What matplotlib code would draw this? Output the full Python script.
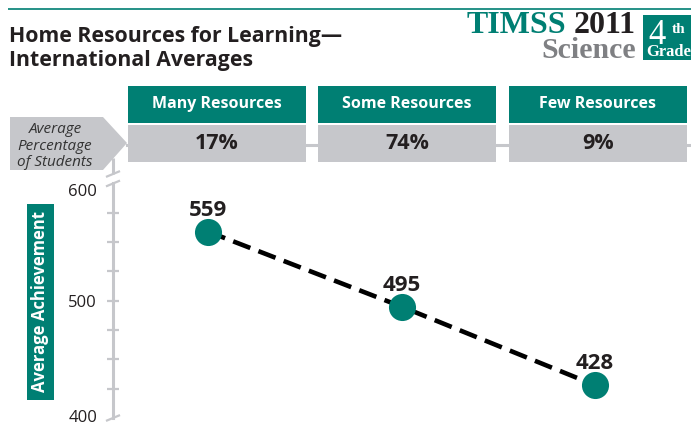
import matplotlib
matplotlib.use('Agg')
import matplotlib.pyplot as plt
from matplotlib.patches import Rectangle, Polygon
from matplotlib.transforms import ScaledTranslation

# data
categories = ['Many Resources', 'Some Resources', 'Few Resources']
pct_students = [17, 74, 9]
achievement = [559, 495, 428]
ytick_vals = [400, 425, 450, 475, 500, 525, 550, 575, 600]
ytick_labels = ['400', '', '', '', '500', '', '', '', '600']

teal = '#007f73'
grey = '#c6c7cb'
dark = '#231f20'
sans = ['Open Sans', 'DejaVu Sans']
serif = ['Liberation Serif', 'DejaVu Serif']

W, H = 691, 424
fig = plt.figure(figsize=(W / 100, H / 100), dpi=100)

# background layer in pixel coords
bg = fig.add_axes([0, 0, 1, 1])
bg.set_xlim(0, W)
bg.set_ylim(H, 0)
bg.axis('off')

bg.plot([8, W], [8.5, 8.5], color=teal, lw=1.2, solid_capstyle='butt')
bg.text(9, 42, 'Home Resources for Learning\u2014', fontsize=15.3, fontweight='bold',
        family=sans, color=dark, va='baseline')
bg.text(9, 66, 'International Averages', fontsize=15.3, fontweight='bold',
        family=sans, color=dark, va='baseline')

# TIMSS logo
bg.text(636, 33, '2011', fontsize=23, fontweight='bold', family=serif,
        color=dark, ha='right', va='baseline')
bg.text(566, 33, 'TIMSS', fontsize=23, fontweight='bold', family=serif,
        color=teal, ha='right', va='baseline')
bg.text(636, 58, 'Science', fontsize=21.5, fontweight='bold', family=serif,
        color='#7f8083', ha='right', va='baseline')
bg.add_patch(Rectangle((643, 15), 48, 45, color=teal, lw=0))
bg.text(657, 44, '4', fontsize=25, family=serif, color='white',
        ha='center', va='baseline')
bg.text(679, 33, 'th', fontsize=11, fontweight='bold', family=serif,
        color='white', ha='center', va='baseline')
bg.text(669, 56, 'Grade', fontsize=12, fontweight='bold', family=serif,
        color='white', ha='center', va='baseline')

# percentage row
bg.plot([127, W], [145, 145], color=grey, lw=2.2, zorder=1)
bg.add_patch(Polygon([(10, 117), (103, 117), (127, 143), (103, 170), (10, 170)],
                     closed=True, color=grey, lw=0))
bg.text(55, 133, 'Average', fontsize=11, style='italic', family=sans,
        color='#333333', ha='center', va='baseline')
bg.text(55, 150, 'Percentage', fontsize=11, style='italic', family=sans,
        color='#333333', ha='center', va='baseline')
bg.text(55, 166, 'of Students', fontsize=11, style='italic', family=sans,
        color='#333333', ha='center', va='baseline')

box_left = [128, 318, 509]
box_w = 178
for x0, cat, p in zip(box_left, categories, pct_students):
    bg.add_patch(Rectangle((x0, 86), box_w, 37, color=teal, lw=0, zorder=2))
    bg.add_patch(Rectangle((x0, 125), box_w, 37, color=grey, lw=0, zorder=2))
    bg.text(x0 + box_w / 2, 104.5, cat, fontsize=11.5, fontweight='bold',
            family=sans, color='white', ha='center', va='center', zorder=3)
    bg.text(x0 + box_w / 2, 143.5, f'{p}%', fontsize=15.5, fontweight='bold',
            family=sans, color=dark, ha='center', va='center', zorder=3)

# y label box
bg.add_patch(Rectangle((27, 204), 27, 196, color=teal, lw=0))
bg.text(40.5, 302, 'Average Achievement', fontsize=12, fontweight='bold',
        family=sans, color='white', rotation=90, ha='center', va='center')

# axis break pieces
bg.plot([113, 113], [158, 174], color=grey, lw=2.2, solid_capstyle='butt')
for yy in [174, 183.5, 418]:
    bg.plot([107, 119], [yy + 2.5, yy - 2.5], color=grey, lw=1.6)

# data axes
ax_l, ax_r = 113, W
y_top, y_bot = 183.5, 418
ax = fig.add_axes([ax_l / W, (H - y_bot) / H, (ax_r - ax_l) / W, (y_bot - y_top) / H])
ax.patch.set_alpha(0)
ax.set_ylim(400, 600)
slope = 193.5
xmin = -(208 - ax_l) / slope
ax.set_xlim(xmin, xmin + (ax_r - ax_l) / slope)
for s in ['top', 'right', 'bottom']:
    ax.spines[s].set_visible(False)
ax.spines['left'].set_color(grey)
ax.spines['left'].set_linewidth(2.2)
ax.set_xticks([])
ax.set_yticks(ytick_vals)
ax.set_yticklabels(ytick_labels)
ax.tick_params(axis='y', direction='inout', length=9, width=1.6, color=grey,
               labelsize=12, labelcolor=dark, pad=7)
for lab in ax.get_yticklabels():
    lab.set_family(sans)
ticks = ax.yaxis.get_major_ticks()
ticks[0].tick1line.set_visible(False)
ticks[-1].tick1line.set_visible(False)
ticks[-1].label1.set_transform(ticks[-1].label1.get_transform()
                               + ScaledTranslation(0, -0.07, fig.dpi_scale_trans))
ticks[0].label1.set_transform(ticks[0].label1.get_transform()
                              + ScaledTranslation(0, 0.025, fig.dpi_scale_trans))

xs = list(range(len(achievement)))
ax.plot(xs, achievement, color='black', lw=3.3, linestyle=(0, (4, 1.9)),
        dash_capstyle='butt', zorder=3, clip_on=False)
ax.plot(xs, achievement, 'o', color=teal, markersize=19.5, markeredgewidth=0,
        zorder=4, clip_on=False)
for x, v in zip(xs, achievement):
    ax.annotate(str(v), (x, v), xytext=(0, 11.5), textcoords='offset points',
                ha='center', va='baseline', fontsize=16, fontweight='bold',
                family=sans, color=dark)

fig.savefig('out.png', dpi=100)
